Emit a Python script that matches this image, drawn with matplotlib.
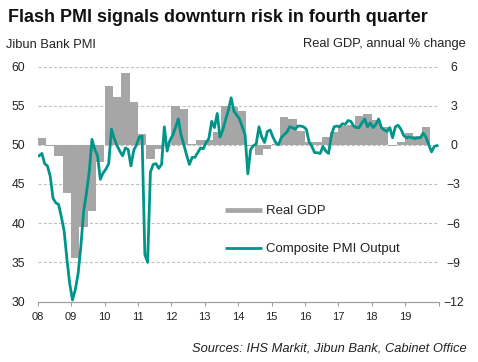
import matplotlib
matplotlib.use("Agg")
import matplotlib.pyplot as plt
from matplotlib.lines import Line2D
import numpy as np

plt.rcParams['font.family'] = ['Liberation Sans', 'DejaVu Sans']
plt.rcParams['lines.scale_dashes'] = False

# ---- data ----
years = ["08", "09", "10", "11", "12", "13", "14", "15", "16", "17", "18", "19"]
pmi_2008 = [48.6, 48.9, 47.6, 47.3, 46.0, 43.2, 42.6, 42.4, 40.8, 39.0, 35.4, 32.3]
pmi_2009 = [30.2, 31.5, 33.5, 37.0, 41.5, 43.8, 46.5, 50.7, 49.4, 48.6, 45.6, 46.4]
pmi_2010 = [46.9, 47.6, 52.0, 50.8, 49.9, 49.2, 48.6, 49.6, 49.4, 47.3, 49.3, 50.0]
pmi_2011 = [51.0, 51.1, 36.0, 35.0, 46.5, 47.5, 47.6, 47.0, 47.5, 52.3, 49.2, 50.6]
pmi_2012 = [51.2, 52.2, 53.3, 51.3, 50.0, 48.7, 47.5, 48.4, 48.4, 49.0, 49.6, 49.5]
pmi_2013 = [50.3, 50.8, 53.0, 52.2, 54.0, 51.0, 51.9, 53.2, 54.4, 56.0, 54.3, 53.8]
pmi_2014 = [53.3, 52.3, 51.3, 46.3, 49.4, 49.9, 50.1, 52.3, 51.0, 50.3, 51.7, 51.9]
pmi_2015 = [51.0, 50.3, 50.0, 50.9, 51.3, 51.6, 52.3, 52.2, 52.0, 52.4, 52.4, 52.3]
pmi_2016 = [52.0, 50.4, 49.8, 49.0, 49.0, 48.9, 49.8, 49.2, 48.9, 51.2, 52.3, 52.4]
pmi_2017 = [52.3, 52.7, 52.6, 53.1, 53.0, 52.4, 52.2, 52.2, 52.8, 53.3, 52.3, 52.8]
pmi_2018 = [52.2, 52.6, 53.3, 52.2, 51.9, 51.7, 52.2, 50.9, 52.3, 52.5, 52.0, 51.2]
pmi_2019 = [50.9, 51.0, 50.9, 50.8, 50.9, 50.9, 51.5, 51.0, 50.0, 49.1, 49.8, 49.9]

gdp_2008 = [0.5, -0.1, -0.85, -3.7]
gdp_2009 = [-8.7, -6.3, -5.1, -1.3]
gdp_2010 = [4.5, 3.7, 5.5, 3.3]
gdp_2011 = [0.8, -1.05, -0.3, -0.1]
gdp_2012 = [3.0, 2.75, 0.1, 0.35]
gdp_2013 = [0.4, 1.0, 3.0, 2.9]
gdp_2014 = [2.6, -0.1, -0.8, -0.35]
gdp_2015 = [0.1, 2.1, 2.0, 1.05]
gdp_2016 = [0.2, 0.25, 0.6, 1.0]
gdp_2017 = [1.45, 1.5, 2.2, 2.35]
gdp_2018 = [1.9, 1.35, -0.1, 0.25]
gdp_2019 = [0.9, 0.7, 1.4]

pmi = (pmi_2008 + pmi_2009 + pmi_2010 + pmi_2011 + pmi_2012 + pmi_2013 +
       pmi_2014 + pmi_2015 + pmi_2016 + pmi_2017 + pmi_2018 + pmi_2019)
gdp = (gdp_2008 + gdp_2009 + gdp_2010 + gdp_2011 + gdp_2012 + gdp_2013 +
       gdp_2014 + gdp_2015 + gdp_2016 + gdp_2017 + gdp_2018 + gdp_2019)

month_x = 2008 + (np.arange(len(pmi)) + 0.5) / 12.0
quarter_x = 2008 + np.arange(len(gdp)) * 0.25

TEAL = '#00958a'
GREY = '#a6a6a6'
GRID = '#c0c0c0'
AXC = '#a0a0a0'

W, H = 478, 362
fig = plt.figure(figsize=(W / 100, H / 100), dpi=100)
left, right = 37.7 / W, 438.5 / W
bottom, top = 1 - 301.5 / H, 1 - 66.5 / H

ax2 = fig.add_axes([left, bottom, right - left, top - bottom])
ax = fig.add_axes([left, bottom, right - left, top - bottom], sharex=ax2)

# GDP bars on right axis (behind)
ax2.bar(quarter_x, gdp, width=0.25, align='edge', color=GREY, linewidth=0, zorder=2)
ax2.set_ylim(-12, 6)
ax2.set_yticks([-12, -9, -6, -3, 0, 3, 6])
ax2.yaxis.tick_right()
ax2.set_axisbelow(True)
for v in [-9, -6, -3, 0, 3, 6]:
    ax2.axhline(v, color=GRID, linewidth=0.8, linestyle=(0, (2.2, 1.5)), zorder=0.5)
ax2.tick_params(axis='y', length=0, pad=11.0, labelsize=8.8, colors='#222222')
for lbl in ax2.get_yticklabels():
    lbl.set_ha('center')
for s in ax2.spines.values():
    s.set_visible(False)
ax2.tick_params(axis='x', bottom=False, labelbottom=False)

# PMI line on left axis (front)
ax.set_zorder(ax2.get_zorder() + 1)
ax.patch.set_visible(False)
ax.plot(month_x, pmi, color=TEAL, linewidth=2.0, solid_joinstyle='round', zorder=3)
ax.set_ylim(30, 60)
ax.set_yticks([30, 35, 40, 45, 50, 55, 60])
ax.tick_params(axis='y', length=0, pad=9.0, labelsize=8.8, colors='#222222')
ax.set_xlim(2008, 2020)
ax.set_xticks(np.arange(2008, 2021))
ax.set_xticklabels(years + [""])
ax.tick_params(axis='x', direction='out', length=3.0, width=0.8, color=AXC,
               pad=4.5, labelsize=8.0, labelcolor='#222222')
for name, s in ax.spines.items():
    s.set_visible(name == 'bottom')
ax.spines['bottom'].set_color(AXC)
ax.spines['bottom'].set_linewidth(0.9)

# legend
handles = [Line2D([], [], color=GREY, linewidth=3.4, solid_capstyle='butt'),
           Line2D([], [], color=TEAL, linewidth=2.0, solid_capstyle='butt')]
leg = ax.legend(handles, ["Real GDP", "Composite PMI Output"],
                loc='upper left', bbox_to_anchor=((225 - 37.7) / (438.5 - 37.7), (301.5 - 205) / 235.0),
                frameon=False, fontsize=9.5, handlelength=2.8, handletextpad=0.3,
                labelspacing=1.95, borderpad=0, borderaxespad=0)
for t in leg.get_texts():
    t.set_color('#222222')

# texts
fig.text(8 / W, 1 - 21.5 / H, "Flash PMI signals downturn risk in fourth quarter",
         fontsize=12.9, fontweight='bold', color='#111111', va='baseline', ha='left')
fig.text(6 / W, 1 - 47.5 / H, "Jibun Bank PMI", fontsize=9.3, color='#222222',
         va='baseline', ha='left')
fig.text(466 / W, 1 - 47.5 / H, "Real GDP, annual % change", fontsize=9.3, color='#222222',
         va='baseline', ha='right')
fig.text(467 / W, 1 - 351.5 / H, "Sources: IHS Markit, Jibun Bank, Cabinet Office",
         fontsize=9.3, style='italic', color='#222222', va='baseline', ha='right')

fig.savefig("out.png", dpi=100)
